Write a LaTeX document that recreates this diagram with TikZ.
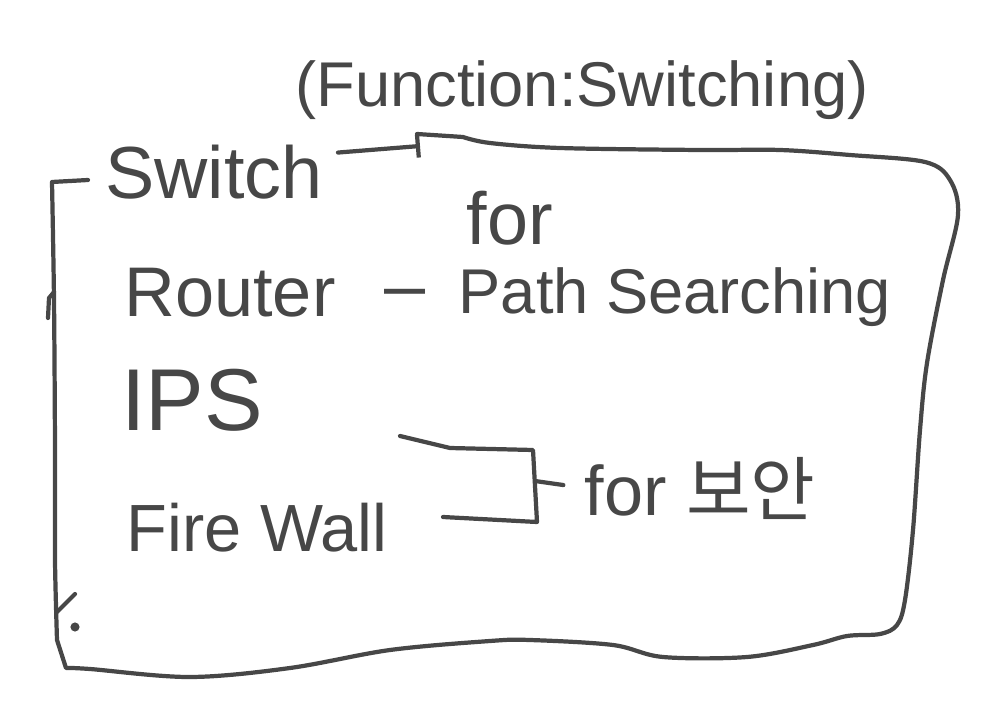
\documentclass[tikz,border=0pt]{standalone}
\usepackage{fontspec}
\usepackage{xcolor}
\usetikzlibrary{arrows.meta}
\setmainfont{Liberation Sans}
\newfontfamily\krfont{Noto Sans CJK KR}
\definecolor{sketchink}{HTML}{474747}

\begin{document}
\begin{tikzpicture}[x=0.02cm,y=-0.02cm,
  pen/.style={draw=sketchink,line width=2.4pt,line cap=round,line join=round},
  scrawl/.style={text=sketchink,inner sep=0pt,font=\fontsize{42}{48}\selectfont}]
\useasboundingbox (0,0) rectangle (990,716);

% labels
\node[scrawl,font=\fontsize{36}{40}\selectfont] (function) at (582,90) {(Function:Switching)};
\node[scrawl] (switch) at (214,172) {Switch};
\node[scrawl,font=\fontsize{42}{46}\selectfont] (forpath) at (510,218) {for};
\node[scrawl,font=\fontsize{40}{44}\selectfont] (router) at (230,293) {Router};
\node[scrawl] (dash) at (405,300) {--};
\node[scrawl,font=\fontsize{36}{40}\selectfont] (path) at (675,297) {Path Searching};
\node[scrawl,font=\fontsize{50}{56}\selectfont] (ips) at (192,400) {IPS};
\node[scrawl,font=\fontsize{38}{44}\selectfont] (firewall) at (257,528) {Fire Wall};
\node[scrawl,font=\fontsize{40}{44}\selectfont] (security) at (700,488) {for {\krfont 보안}};

% switch box
\coordinate (swtip) at (420,146);
\draw[pen,-{Bar[width=13pt]}] ([shift={(15,8)}]switch.north east) -- (swtip);
\draw[pen] (417,134) -- plot[smooth,tension=0.55] coordinates {(463,137) (490,143) (560,148) (700,150) (780,150) (850,155) (925,162) (950,180) (958,215) (943,280) (927,363) (920,430) (913,530) (905,600) (897,625) (880,634) (847,636) (813,645) (747,657) (663,657) (613,645) (530,640) (490,641) (390,650) (290,668) (190,677) (90,669) (66,668)}
  -- plot[smooth] coordinates {(57,640) (55,560) (55,450) (54,300) (52,182)} -- (88,180);
\draw[pen] (48,318) -- (49,298) -- (54,292);
\draw[pen] (57,612) -- (75,594);
\fill[sketchink] (75,627) circle[radius=2.6pt];

% bracket
\coordinate (ipstail) at (400,436);
\coordinate (fwtail) at (443,517);
\coordinate (joint) at (535,481);
\draw[pen] (ipstail) -- (450,448) -- (533,450) -- (537,522) -- (fwtail);
\draw[pen,shorten >=12pt] (joint) -- (security.west);
\end{tikzpicture}
\end{document}
